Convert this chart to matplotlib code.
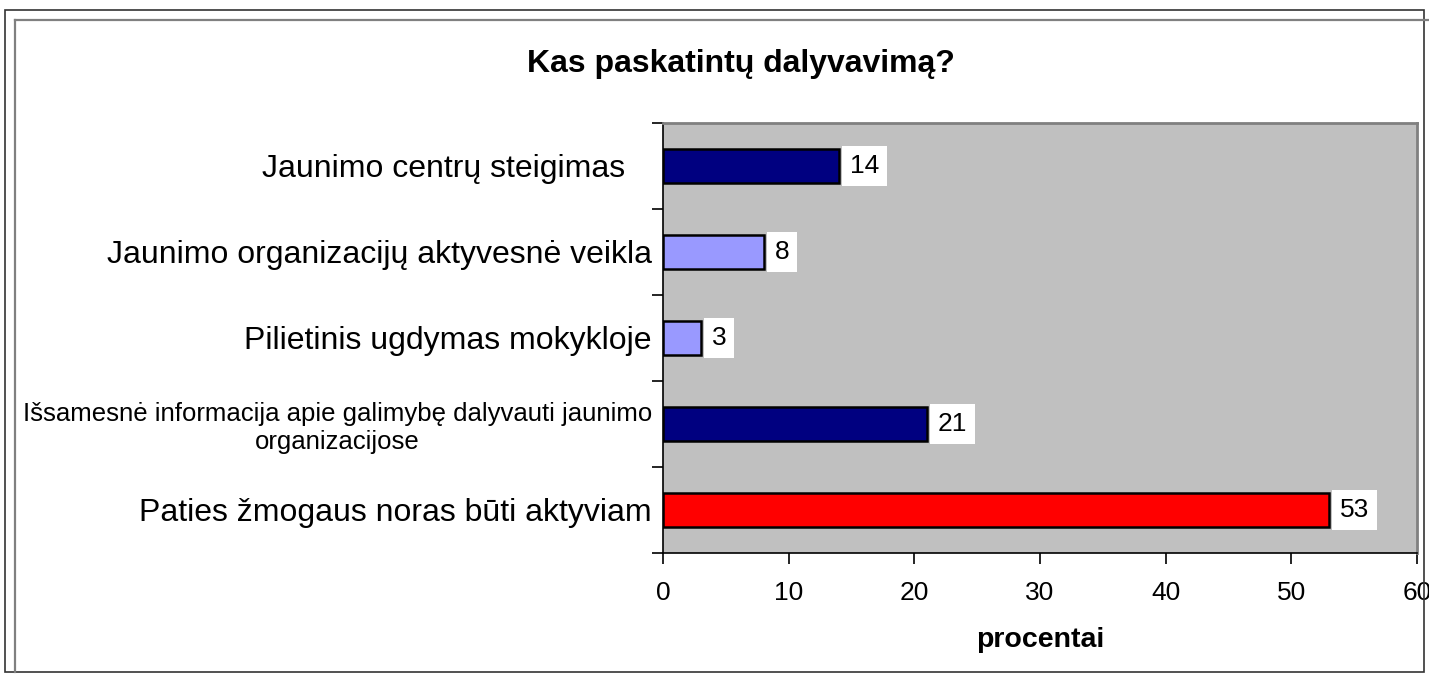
import matplotlib
matplotlib.use("Agg")
import matplotlib.pyplot as plt
from matplotlib.patches import Rectangle
from matplotlib.lines import Line2D
import numpy as np

plt.rcParams['font.family'] = ['Liberation Sans', 'DejaVu Sans']

# data, bottom to top as drawn
categories = ["Paties žmogaus noras būti aktyviam",
              "Išsamesnė informacija apie galimybę dalyvauti jaunimo\norganizacijose",
              "Pilietinis ugdymas mokykloje",
              "Jaunimo organizacijų aktyvesnė veikla",
              "Jaunimo centrų steigimas   "]
values = [53, 21, 3, 8, 14]
bar_colors = ["#FF0000", "#000080", "#9999FF", "#9999FF", "#000080"]
label_sizes = [23, 18.5, 23, 23, 23]
xticks = [0, 10, 20, 30, 40, 50, 60]

W, H = 1429, 675
fig = plt.figure(figsize=(W / 100, H / 100), dpi=100)

# outer frames (chart-object look)
fig.patches.append(Rectangle((5 / W, 3 / H), 1419 / W, 662 / H, transform=fig.transFigure,
                             fill=False, edgecolor="#333333", lw=1.2))
fig.lines.append(Line2D([15 / W, 1.0], [1 - 20 / H, 1 - 20 / H], transform=fig.transFigure,
                        color="#808080", lw=1.6))
fig.lines.append(Line2D([15 / W, 15 / W], [3 / H, 1 - 20 / H], transform=fig.transFigure,
                        color="#808080", lw=1.6))

ax = fig.add_axes([663 / W, 122 / H, 754 / W, 430 / H])
ax.set_facecolor("#C0C0C0")

ypos = np.arange(len(values))
ax.barh(ypos, values, height=0.4, color=bar_colors, edgecolor="black", linewidth=1.8, zorder=3)

for y, v in zip(ypos, values):
    ax.annotate(str(v), xy=(v, y), xytext=(8, 0), textcoords="offset points",
                ha="left", va="center", fontsize=19, zorder=4,
                bbox=dict(boxstyle="square,pad=0.3", facecolor="white", edgecolor="none"))

ax.set_xlim(0, 60)
ax.set_ylim(-0.5, len(values) - 0.5)
ax.set_xticks(xticks)
ax.set_xticklabels([str(t) for t in xticks], fontsize=19)
ax.tick_params(axis="x", direction="out", length=8, width=1.2, pad=12)

# category boundaries get the tick marks, labels sit in the middle
ax.set_yticks(np.arange(-0.5, len(values), 1.0))
ax.set_yticklabels([])
ax.tick_params(axis="y", which="major", direction="out", length=8, width=1.2)
ax.set_yticks(ypos, minor=True)
ax.set_yticklabels(categories, minor=True)
ax.tick_params(axis="y", which="minor", length=0, pad=8)
for lab, fs in zip(ax.get_yticklabels(minor=True), label_sizes):
    lab.set_fontsize(fs)
    lab.set_multialignment("center")

for side in ["top", "right"]:
    ax.spines[side].set_color("#808080")
    ax.spines[side].set_linewidth(2)
for side in ["left", "bottom"]:
    ax.spines[side].set_color("black")
    ax.spines[side].set_linewidth(1.2)

ax.set_xlabel("procentai", fontsize=20.5, fontweight="bold", labelpad=16)
fig.text(741 / W, 1 - 64 / H, "Kas paskatintų dalyvavimą?", ha="center", va="center",
         fontsize=23, fontweight="bold")

fig.savefig("out.png", dpi=100)
